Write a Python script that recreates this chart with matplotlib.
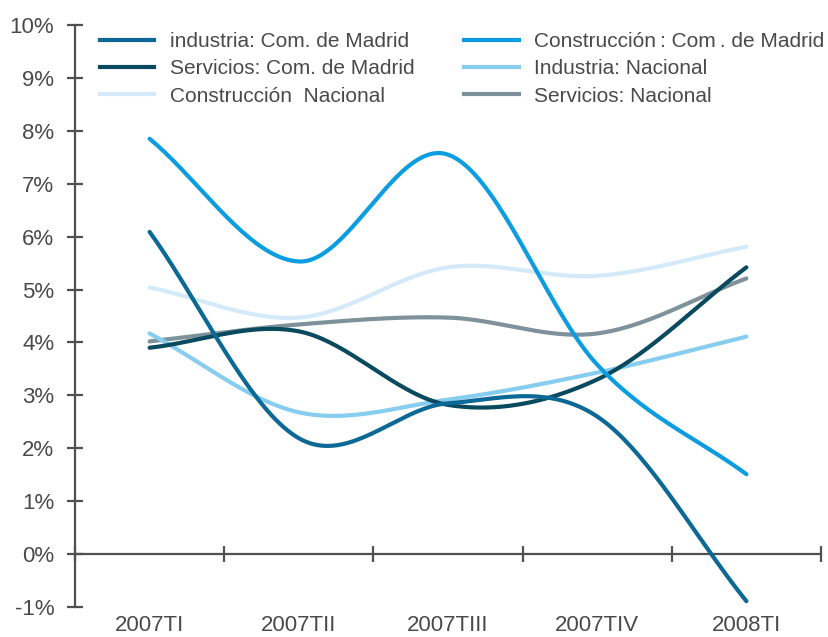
import numpy as np
import matplotlib
matplotlib.use("Agg")
import matplotlib.pyplot as plt
from matplotlib.lines import Line2D

plt.rcParams['font.family'] = ['Liberation Sans', 'DejaVu Sans']

categories = ["2007TI", "2007TII", "2007TIII", "2007TIV", "2008TI"]

industria_madrid = [6.09, 2.19, 2.85, 2.60, -0.89]
construccion_madrid = [7.85, 5.53, 7.55, 3.58, 1.51]
servicios_madrid = [3.90, 4.21, 2.82, 3.30, 5.42]
industria_nacional = [4.17, 2.68, 2.92, 3.43, 4.11]
construccion_nacional = [5.04, 4.47, 5.42, 5.26, 5.81]
servicios_nacional = [4.02, 4.34, 4.47, 4.17, 5.21]

series = [
    ("industria: Com. de Madrid", industria_madrid, "#0c6894"),
    ("Servicios: Com. de Madrid", servicios_madrid, "#0a4a5e"),
    ("Construcción  Nacional", construccion_nacional, "#d4eaf8"),
    ("Construcción\u2009: Com\u2009. de Madrid", construccion_madrid, "#0b9de0"),
    ("Industria: Nacional", industria_nacional, "#86cdf0"),
    ("Servicios: Nacional", servicios_nacional, "#7f929c"),
]


def catmull_rom(xs, ys, n=40):
    xs = np.asarray(xs, float)
    ys = np.asarray(ys, float)
    px = np.concatenate([[2 * xs[0] - xs[1]], xs, [2 * xs[-1] - xs[-2]]])
    py = np.concatenate([[2 * ys[0] - ys[1]], ys, [2 * ys[-1] - ys[-2]]])
    outx, outy = [], []
    t = np.linspace(0, 1, n)
    for i in range(1, len(px) - 2):
        for P, out in ((px, outx), (py, outy)):
            p0, p1, p2, p3 = P[i - 1], P[i], P[i + 1], P[i + 2]
            v = 0.5 * ((2 * p1) + (-p0 + p2) * t + (2 * p0 - 5 * p1 + 4 * p2 - p3) * t ** 2
                       + (-p0 + 3 * p1 - 3 * p2 + p3) * t ** 3)
            out.extend(v if i == 1 else v[1:])
    return np.array(outx), np.array(outy)


W, H = 829, 637
fig = plt.figure(figsize=(W / 100, H / 100), dpi=100)
ax = fig.add_axes([75 / W, 1 - 607 / H, (821 - 75) / W, (607 - 25) / H])

x = np.arange(len(categories))
draw_order = [2, 5, 4, 1, 0, 3]
for idx in draw_order:
    label, vals, color = series[idx]
    sx, sy = catmull_rom(x, vals)
    ax.plot(sx, sy, color=color, lw=3.0, solid_capstyle='round', zorder=3)

ax.set_xlim(-0.5, len(categories) - 0.5)
ax.set_ylim(-1, 10)

axis_color = "#505050"
text_color = "#4a4a4a"
for s in ["top", "right"]:
    ax.spines[s].set_visible(False)
ax.spines["bottom"].set_position(("data", 0))
ax.spines["bottom"].set_color(axis_color)
ax.spines["left"].set_color(axis_color)
ax.spines["bottom"].set_linewidth(1.6)
ax.spines["left"].set_linewidth(1.6)
ax.spines["bottom"].set_zorder(2)

ax.set_yticks(np.arange(-1, 11, 1))
ax.set_yticklabels([f"{v}%" for v in range(-1, 11)])
ax.tick_params(axis='y', direction='inout', length=12, width=1.6, color=axis_color,
               labelsize=16, labelcolor=text_color, pad=9)
ax.set_xticks(np.arange(-0.5, len(categories), 1.0))
ax.set_xticklabels([])
ax.tick_params(axis='x', direction='inout', length=12, width=1.6, color=axis_color)

for i, c in enumerate(categories):
    ax.annotate(c, xy=(i, 0), xycoords=('data', 'axes fraction'), xytext=(0, -6),
                textcoords='offset points', ha='center', va='top', fontsize=16,
                color=text_color)

leg_handles = [Line2D([0], [0], color=c, lw=3.0) for _, _, c in series]
leg_labels = [l for l, _, _ in series]
leg = fig.legend(leg_handles, leg_labels, ncol=2, loc='upper left',
                 bbox_to_anchor=(100 / W, 1 - 32 / H), frameon=False, fontsize=15,
                 handlelength=2.6, handletextpad=0.75, columnspacing=2.4,
                 labelspacing=0.4, borderpad=0, borderaxespad=0)
for t in leg.get_texts():
    t.set_color(text_color)

fig.savefig("out.png", dpi=100)
